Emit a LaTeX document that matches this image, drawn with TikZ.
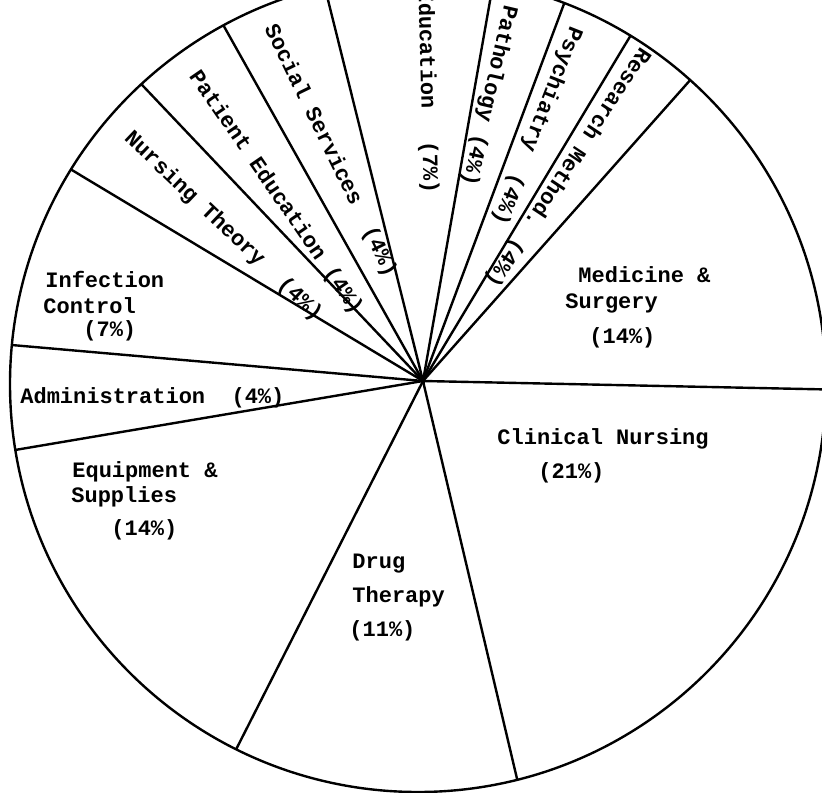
\documentclass[tikz,border=0pt]{standalone}
\usepackage{fontspec}
\newfontfamily\typewriter{Liberation Mono}
\begin{document}
\begin{tikzpicture}[x=0.5pt,y=0.5pt,
  lbl/.style={font=\typewriter\bfseries\fontsize{11}{13}\selectfont, inner sep=0pt},
  flat/.style={lbl, anchor=base west},
  radial/.style={lbl, anchor=west, text height=5.5pt, text depth=0pt},
  edge/.style={line width=1.2pt}]
% page frame, origin at the hub of the pie
\useasboundingbox (-423,-411) rectangle (399,381);
\fill[white] (-423,-411) rectangle (399,381);
\clip (-423,-411) rectangle (399,381);
\coordinate (hub) at (0,0);
\coordinate (rim) at (-5,-3);
% sector boundaries, cut off at the rim
\begin{scope}
  \clip (rim) circle[radius=408];
  \foreach \a in {-1.2,-76.7,243.1,189.6,175,149,133.5,119.3,104,80,69.5,59,48.4}
    \draw[edge] (hub) -- (\a:650);
\end{scope}
\draw[edge] (rim) circle[radius=408];
\fill (hub) circle[radius=2.5];

% horizontal labels
\node[flat] (med1) at (155,98) {Medicine \&};
\node[flat] (med2) at (142,72) {Surgery};
\node[flat] (med3) at (166,38) {(14\%)};
\node[flat] (cli1) at (74,-63) {Clinical Nursing};
\node[flat] (cli2) at (115,-97) {(21\%)};
\node[flat] (inf1) at (-378,93) {Infection};
\node[flat] (inf2) at (-380,68) {Control};
\node[flat] (inf3) at (-340,45) {(7\%)};
\node[flat] (adm) at (-403,-22) {Administration\ \ (4\%)};
\node[flat] (equ1) at (-351,-96) {Equipment \&};
\node[flat] (equ2) at (-352,-121) {Supplies};
\node[flat] (equ3) at (-312,-154) {(14\%)};
\node[flat] (drg1) at (-71,-187) {Drug};
\node[flat] (drg2) at (-71,-221) {Therapy};
\node[flat] (drg3) at (-74,-255) {(11\%)};

% labels set along the narrow sectors
\node[radial, rotate=-43.5] (nth) at (-296,245.5) {Nursing Theory\ \ (4\%)};
\node[radial, rotate=-55.5] (ped) at (-230,308) {Patient Education (4\%)};
\node[radial, rotate=-64] (soc) at (-154,355) {Social Services\ \ (4\%)};
\node[radial, rotate=-88.5] (edu) at (1,391.6) {Education\ \ \kern3pt(7\%)};
\node[radial, rotate=-103] (pat) at (86.8,375.7) {Pathology (4\%)};
\node[radial, rotate=-111.5] (psy) at (152.7,353.8) {Psychiatry\ \ (4\%)};
\node[radial, rotate=-123.5] (res) at (222.3,331.5) {Research Method. (4\%)};
\end{tikzpicture}
\end{document}
